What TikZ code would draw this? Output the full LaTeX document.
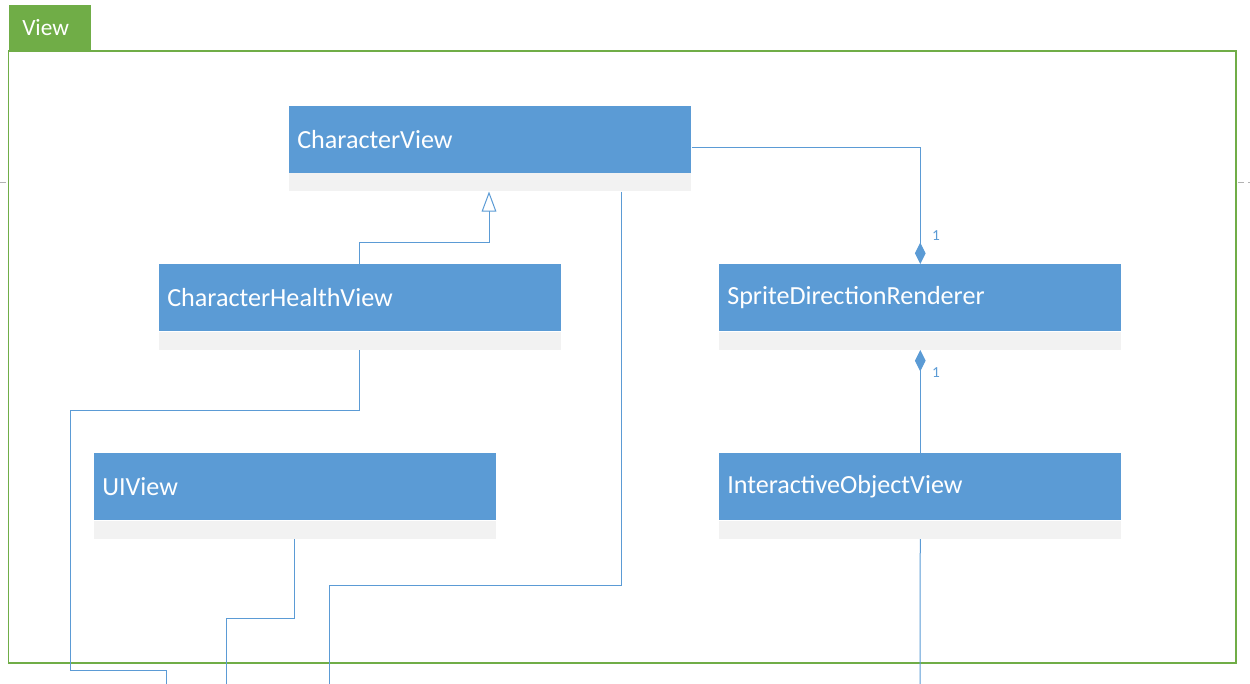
\documentclass[tikz,border=0pt]{standalone}
\usepackage{fontspec}
\setmainfont{Carlito}
\usetikzlibrary{arrows.meta,calc}
\definecolor{hdr}{RGB}{91,155,213}
\definecolor{cmp}{RGB}{242,242,242}
\definecolor{grn}{RGB}{112,173,71}
\definecolor{lnk}{RGB}{91,155,213}
\begin{document}
\begin{tikzpicture}[x=0.75pt,y=-0.75pt,
  hdrbox/.style={fill=hdr, draw=none, anchor=north west, minimum width=301.5pt, minimum height=50pt,
     text width=289.5pt, inner xsep=6pt, inner ysep=0pt, align=left, text=white,
     font=\fontsize{19.6pt}{22pt}\selectfont},
  cmpbox/.style={fill=cmp, draw=none, anchor=north west, minimum width=301.5pt, minimum height=13.5pt, inner sep=0pt},
  link/.style={draw=lnk, line width=0.75pt},
  inh/.style={link, -{Triangle[open, length=15pt, width=11pt, fill=white]}},
  compo/.style={link, -{Diamond[length=16pt, width=8pt, fill=lnk]}},
  compostart/.style={link, {Diamond[length=16pt, width=8pt, fill=lnk]}-},
  mult/.style={text=lnk, font=\fontsize{11.5pt}{13pt}\selectfont, inner sep=0pt}
]
\useasboundingbox (0,0) rectangle (1250,684);
% page break marks
\draw[gray!60, line width=0.75pt, dash pattern=on 4.5pt off 3pt] (0,183) -- (8,183);
\draw[gray!60, line width=0.75pt, dash pattern=on 4.5pt off 3pt] (1238,183) -- (1250,183);
% frame
\draw[grn, line width=0.9pt] (8.5,51) rectangle (1236,663);
\node[fill=grn, anchor=north west, minimum width=61.5pt, minimum height=34.5pt, inner sep=0pt] (tab) at (9,5) {};
\node[text=white, anchor=west, inner sep=0pt, font=\fontsize{17.5pt}{20pt}\selectfont] (tabtxt) at (22,28) {View};
% classes
\node[hdrbox] (cvh) at (289,106) {CharacterView};
\node[cmpbox] (cvc) at (289,173) {};
\node[hdrbox] (chvh) at (159,264) {CharacterHealthView};
\node[cmpbox] (chvc) at (159,331.5) {};
\node[hdrbox] (sdrh) at (719,264) {SpriteDirectionRenderer};
\node[cmpbox] (sdrc) at (719,331.5) {};
\node[hdrbox] (uih) at (94,453) {UIView};
\node[cmpbox] (uic) at (94,520.5) {};
\node[hdrbox] (iovh) at (719,453) {InteractiveObjectView};
\node[cmpbox] (iovc) at (719,520.5) {};
% off-page endpoints
\coordinate (e1) at (166,684);
\coordinate (e2) at (226,684);
\coordinate (e3) at (329,684);
\coordinate (e4) at (920,684);
% inheritance
\draw[inh] ($(chvh.north west)+(200,0)$) |- ($(cvc.south west)+(200,51)$) -- ($(cvc.south west)+(200,0)$);
% compositions
\draw[compo] ($(cvh.north east)+(0,42)$) -| (sdrh.north);
\node[mult] (m1) at (936,236) {1};
\draw[compostart] (sdrc.south) -- (iovh.north);
\node[mult] (m2) at (936,373) {1};
% outgoing links
\draw[link] ($(cvc.south west)+(332,0)$) |- (329,585) -- (e3);
\draw[link] ($(chvc.south west)+(200,0)$) |- (70,410) |- (166,670) -- (e1);
\draw[link] ($(uic.south west)+(200,0)$) |- (226,618) -- (e2);
\draw[link] (iovc.south) -- (e4);
\end{tikzpicture}
\end{document}
